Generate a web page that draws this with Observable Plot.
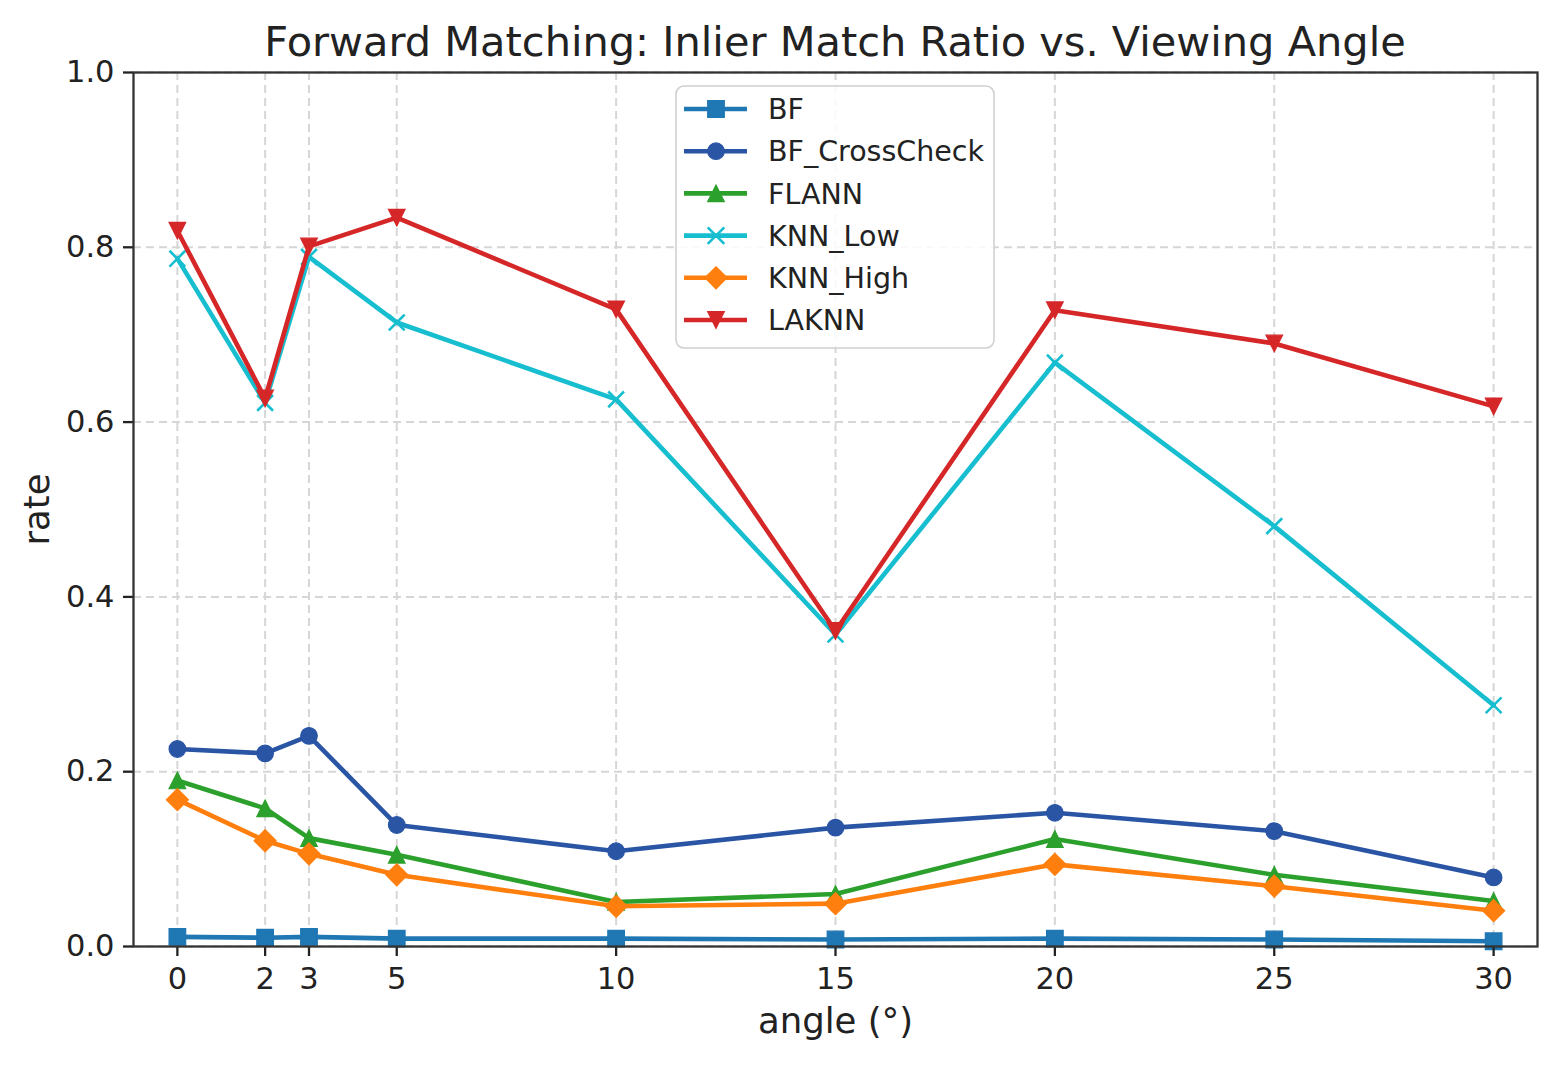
<!DOCTYPE html>
<html>
<head>
<meta charset="utf-8">
<script src="https://cdn.jsdelivr.net/npm/d3@7"></script>
<script src="https://cdn.jsdelivr.net/npm/@observablehq/plot@0.6"></script>
<style>
  body { margin: 0; background: #fff; font-family: "DejaVu Sans", sans-serif; }
  #wrap { position: relative; width: 1568px; height: 1073px; background: #fff; overflow: hidden; }
  #title { position: absolute; left: 133px; width: 1404px; top: 21px; height: 41px; line-height: 41px;
           text-align: center; font-size: 41.5px; color: #222; white-space: nowrap; z-index: 2; }
  #chart { position: absolute; left: 0; top: 30px; z-index: 1; }
  #legend { position: absolute; left: 675px; top: 85px; z-index: 3; }
  g[aria-label="x-axis label"], g[aria-label="y-axis label"] { font-size: 35.5px; }
  g[aria-label="x-axis tick label"], g[aria-label="y-axis tick label"] { font-size: 30.5px; }
</style>
</head>
<body>
<div id="wrap">
  <div id="chart"></div>
  <div id="title">Forward Matching: Inlier Match Ratio vs. Viewing Angle</div>
  <div id="legend"></div>
</div>
<script>
// ---- data ----
const angles = [0, 2, 3, 5, 10, 15, 20, 25, 30];
const methods = ["BF", "BF_CrossCheck", "FLANN", "KNN_Low", "KNN_High", "LAKNN"];
const bf           = [0.011, 0.010, 0.011, 0.009, 0.009, 0.008, 0.009, 0.008, 0.006];
const bfCrossCheck = [0.226, 0.221, 0.241, 0.139, 0.109, 0.136, 0.153, 0.132, 0.079];
const flann        = [0.190, 0.158, 0.124, 0.105, 0.051, 0.060, 0.123, 0.082, 0.052];
const knnLow       = [0.787, 0.622, 0.789, 0.714, 0.626, 0.357, 0.668, 0.481, 0.276];
const knnHigh      = [0.168, 0.121, 0.106, 0.082, 0.046, 0.049, 0.094, 0.069, 0.041];
const laknn        = [0.819, 0.627, 0.801, 0.834, 0.729, 0.361, 0.728, 0.690, 0.618];
const yTicks = [0, 0.2, 0.4, 0.6, 0.8, 1.0];

// ---- styles ----
const colors = ["#1f77b4", "#2a55a5", "#2ca02c", "#17becf", "#ff7f0e", "#d62728"];

function mk(fn) { return { draw(c, size) { fn(c, Math.sqrt(size / Math.PI)); } }; }
const symSquare  = mk((c, r) => { c.moveTo(-r, -r); c.lineTo(r, -r); c.lineTo(r, r); c.lineTo(-r, r); c.closePath(); });
const symCircle  = mk((c, r) => { c.moveTo(r, 0); c.arc(0, 0, r, 0, 2 * Math.PI); c.closePath(); });
const symTriUp   = mk((c, r) => { c.moveTo(0, -r); c.lineTo(r, r); c.lineTo(-r, r); c.closePath(); });
const symTriDown = mk((c, r) => { c.moveTo(0, r); c.lineTo(r, -r); c.lineTo(-r, -r); c.closePath(); });
const symDiamond = mk((c, r) => { const d = r * 1.33; c.moveTo(0, -d); c.lineTo(d, 0); c.lineTo(0, d); c.lineTo(-d, 0); c.closePath(); });
const symX       = mk((c, r) => { c.moveTo(-r, -r); c.lineTo(r, r); c.moveTo(r, -r); c.lineTo(-r, r); });

const seriesValues = [bf, bfCrossCheck, flann, knnLow, knnHigh, laknn];
const symbols = [symSquare, symCircle, symTriUp, symX, symDiamond, symTriDown];
const filled = [true, true, true, false, true, true];

const series = methods.map((name, k) => ({
  name, color: colors[k], symbol: symbols[k], filled: filled[k],
  rows: angles.map((a, i) => ({ angle: a, rate: seriesValues[k][i] }))
}));

const R = 8.3;
const marks = [
  Plot.gridX({ ticks: angles, stroke: "#d6d6d6", strokeOpacity: 1, strokeWidth: 2, strokeDasharray: "8,5" }),
  Plot.gridY({ ticks: yTicks, stroke: "#d6d6d6", strokeOpacity: 1, strokeWidth: 2, strokeDasharray: "8,5" })
];
for (const s of series) {
  marks.push(Plot.line(s.rows, { x: "angle", y: "rate", stroke: s.color, strokeWidth: 4.6, strokeLinejoin: "round", strokeLinecap: "round" }));
  marks.push(Plot.dot(s.rows, {
    x: "angle", y: "rate", symbol: s.symbol, r: s.filled ? R : R * 0.95,
    fill: s.filled ? s.color : "none", stroke: s.color, strokeWidth: s.filled ? 1.2 : 2.6
  }));
}
marks.push(
  Plot.axisX({ ticks: angles, tickSize: 10, tickPadding: 11, strokeWidth: 2.3, tickFormat: d3.format("d"), fontSize: 30.5,
               label: "angle (°)", labelArrow: "none", labelAnchor: "center", labelOffset: 86 }),
  Plot.axisY({ ticks: yTicks, tickSize: 10, tickPadding: 9, strokeWidth: 2.3, tickFormat: d3.format(".1f"), fontSize: 30.5,
               label: "rate", labelArrow: "none", labelAnchor: "center", labelOffset: 110 }),
  Plot.frame({ stroke: "#333", strokeWidth: 2.3 })
);

const chart = Plot.plot({
  width: 1568, height: 1043,
  marginTop: 42, marginBottom: 127, marginLeft: 133, marginRight: 31,
  x: { domain: [-1, 31] },
  y: { domain: [0, 1] },
  style: { fontFamily: "DejaVu Sans", fontSize: "30.5px", color: "#222", background: "transparent" },
  marks
});
document.getElementById("chart").appendChild(chart);

// ---- legend ----
const LW = 320, LH = 264;
const lsvg = d3.select("#legend").append("svg").attr("width", LW).attr("height", LH)
  .style("font-family", "DejaVu Sans").style("overflow", "visible");
lsvg.append("rect").attr("x", 1).attr("y", 1).attr("width", LW - 2).attr("height", LH - 2)
  .attr("rx", 8).attr("fill", "white").attr("fill-opacity", 0.85).attr("stroke", "#d0d0d0").attr("stroke-width", 1.6);
series.forEach((s, i) => {
  const y = 24 + i * 42.2;
  const g = lsvg.append("g");
  g.append("line").attr("x1", 9).attr("x2", 72).attr("y1", y).attr("y2", y)
    .attr("stroke", s.color).attr("stroke-width", 4.6);
  g.append("path").attr("transform", `translate(41,${y})`)
    .attr("d", d3.symbol().type(s.symbol).size(Math.PI * R * R)())
    .attr("fill", s.filled ? s.color : "none").attr("stroke", s.color).attr("stroke-width", s.filled ? 1.2 : 2.6);
  g.append("text").attr("x", 93).attr("y", y).attr("dy", "0.36em").attr("font-size", 28.5)
    .attr("fill", "#222").text(s.name);
});
</script>
</body>
</html>
